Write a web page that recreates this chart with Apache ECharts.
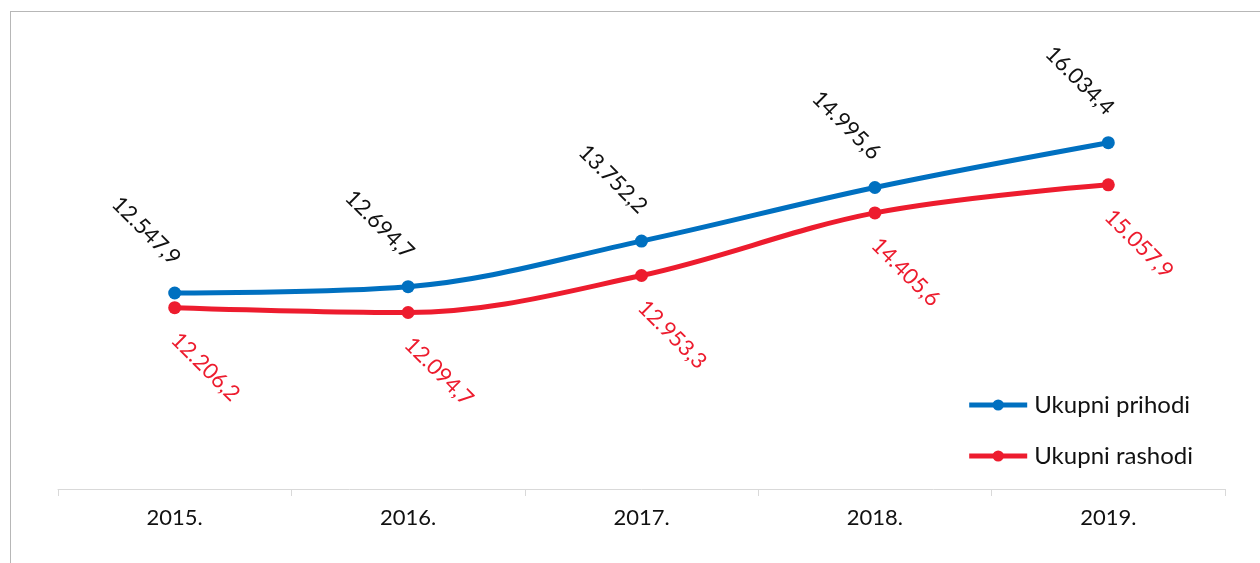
<!DOCTYPE html>
<html>
<head>
<meta charset="utf-8">
<script src="https://cdn.jsdelivr.net/npm/echarts@6/dist/echarts.min.js"></script>
<style>
  html, body { margin: 0; padding: 0; background: #fff; overflow: hidden; }
  #frame {
    position: absolute; left: 10px; top: 11px; width: 1260px; height: 560px;
    border-top: 1px solid #b7b7b7; border-left: 1px solid #b7b7b7;
  }
  #chart { position: absolute; left: 0; top: 0; width: 1260px; height: 563px; }
</style>
</head>
<body>
<div id="frame"></div>
<div id="chart"></div>
<script>
const years = ['2015.', '2016.', '2017.', '2018.', '2019.'];
const prihodi = [12547.9, 12694.7, 13752.2, 14995.6, 16034.4];
const rashodi = [12206.2, 12094.7, 12953.3, 14405.6, 15057.9];

const BLUE = '#0070C0';
const RED = '#ED1C2E';
const FONT = 'Lato, "Open Sans", sans-serif';
const W = 400;

const fmt = v => {
  const [i, d] = v.toFixed(1).split('.');
  return i.replace(/\B(?=(\d{3})+(?!\d))/g, '.') + ',' + d;
};

const chart = echarts.init(document.getElementById('chart'));

const option = {
  animation: false,
  textStyle: { fontFamily: FONT },
  grid: { left: 58, right: 35, top: 58, bottom: 74 },
  legend: {
    orient: 'vertical',
    right: 62,
    top: 388,
    itemWidth: 58,
    itemHeight: 14,
    itemGap: 27,
    textStyle: { fontSize: 24, color: '#111', fontFamily: FONT, fontWeight: W, padding: [0, 0, 0, 2] },
    data: [
      { name: 'Ukupni prihodi', lineStyle: { width: 5 } },
      { name: 'Ukupni rashodi', lineStyle: { width: 5 } }
    ]
  },
  xAxis: {
    type: 'category',
    data: years,
    boundaryGap: true,
    axisLine: { lineStyle: { color: '#d9d9d9', width: 1 } },
    axisTick: { show: true, length: 7, lineStyle: { color: '#d9d9d9' } },
    axisLabel: { fontSize: 22, color: '#111', margin: 18, fontFamily: FONT, fontWeight: W }
  },
  yAxis: {
    type: 'value',
    min: 8000,
    max: 18000,
    show: false,
    splitLine: { show: false }
  },
  series: [
    {
      name: 'Ukupni prihodi',
      type: 'line',
      smooth: 0.35,
      data: prihodi,
      symbol: 'circle',
      symbolSize: 13,
      itemStyle: { color: BLUE },
      lineStyle: { color: BLUE, width: 5 },
      label: {
        show: true,
        position: 'top',
        distance: 27,
        offset: [3, 0],
        rotate: -45,
        align: 'right',
        verticalAlign: 'middle',
        fontSize: 22,
        fontWeight: W,
        color: '#111',
        fontFamily: FONT,
        formatter: p => fmt(p.value)
      }
    },
    {
      name: 'Ukupni rashodi',
      type: 'line',
      smooth: 0.35,
      data: rashodi,
      symbol: 'circle',
      symbolSize: 13,
      itemStyle: { color: RED },
      lineStyle: { color: RED, width: 5 },
      label: {
        show: true,
        position: 'bottom',
        distance: 22,
        offset: [0, 0],
        rotate: -45,
        align: 'left',
        verticalAlign: 'middle',
        fontSize: 22,
        fontWeight: W,
        color: RED,
        fontFamily: FONT,
        formatter: p => fmt(p.value)
      }
    }
  ]
};

chart.setOption(option);
</script>
</body>
</html>
